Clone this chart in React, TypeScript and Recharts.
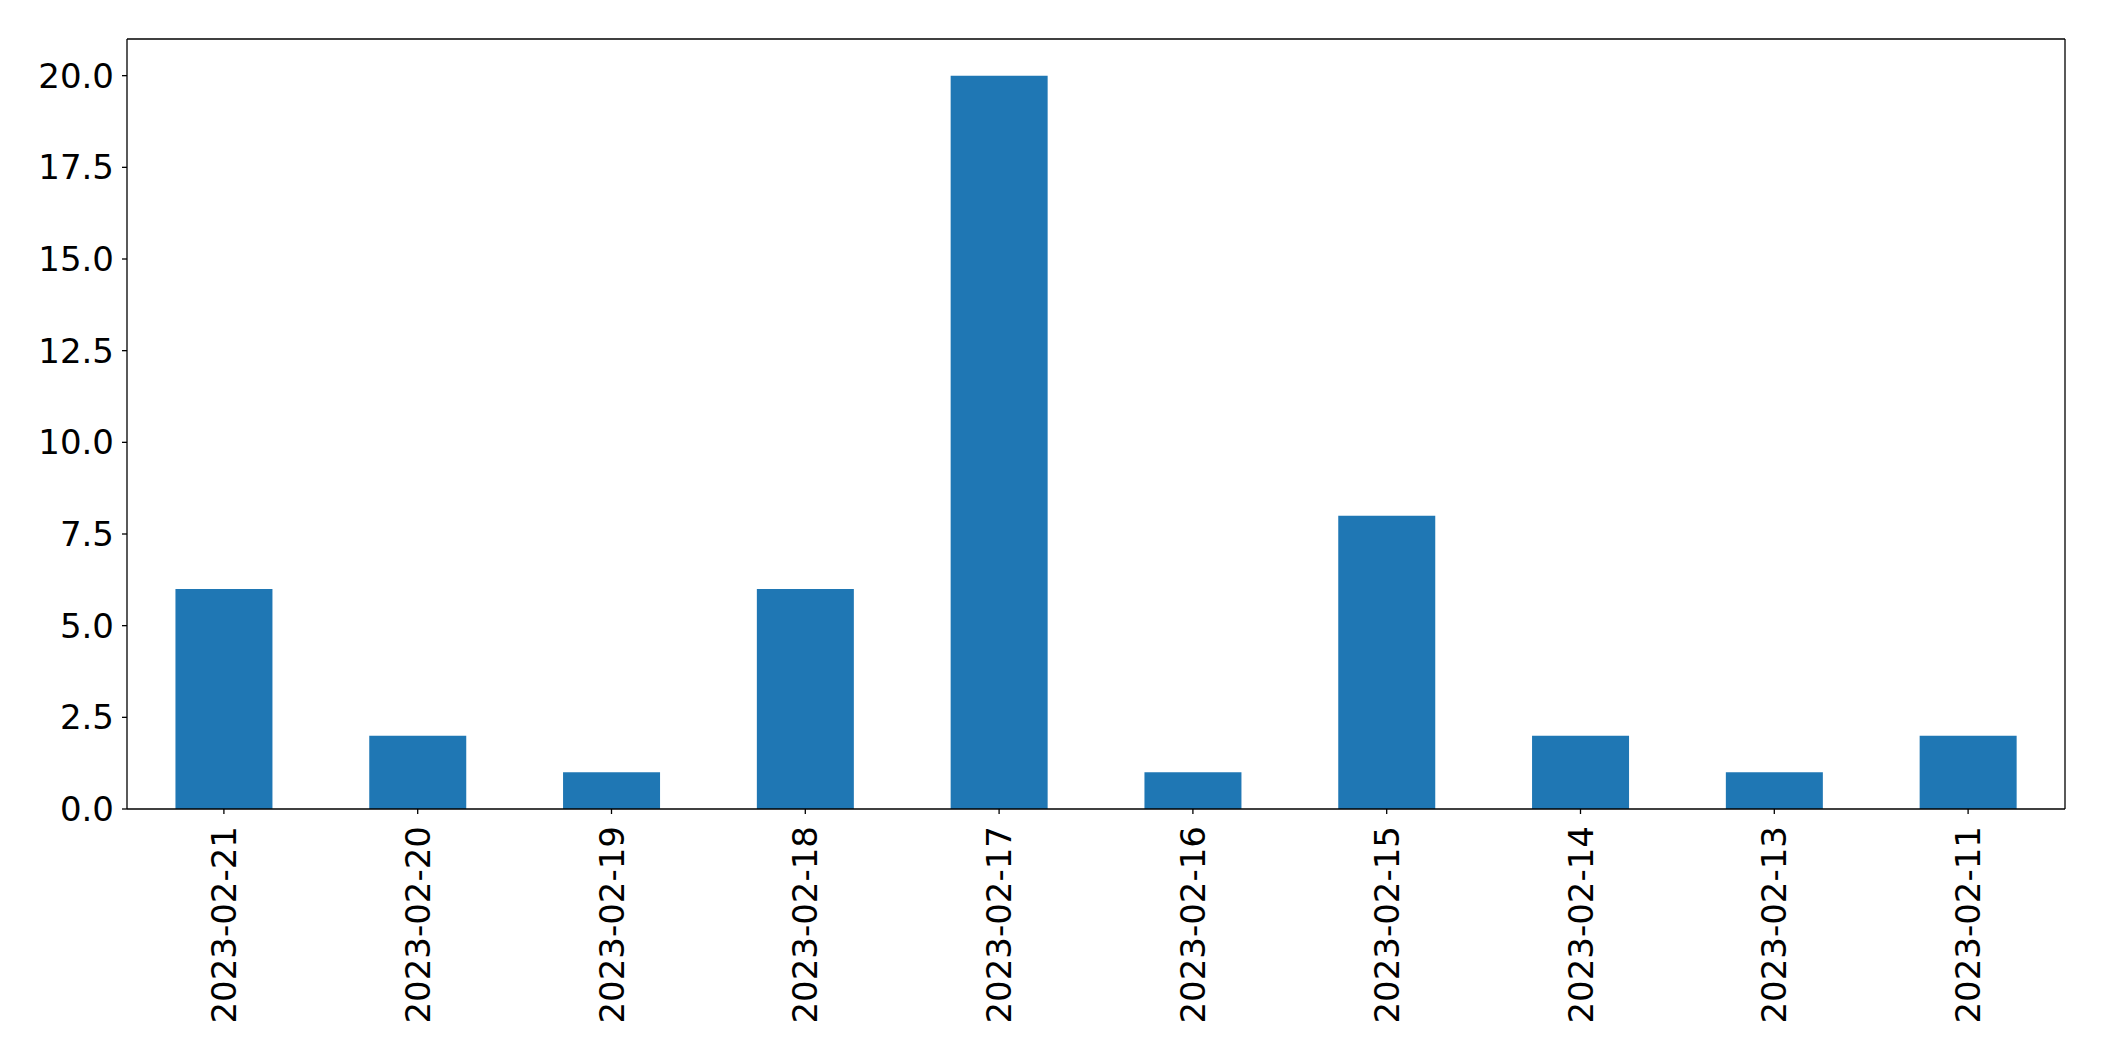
import { BarChart, Bar, XAxis, YAxis, CartesianGrid } from "recharts";

// values
const dates = [
  "2023-02-21",
  "2023-02-20",
  "2023-02-19",
  "2023-02-18",
  "2023-02-17",
  "2023-02-16",
  "2023-02-15",
  "2023-02-14",
  "2023-02-13",
  "2023-02-11",
];
const counts = [6, 2, 1, 6, 20, 1, 8, 2, 1, 2];
const yTicks = [0, 2.5, 5, 7.5, 10, 12.5, 15, 17.5, 20];

const data = dates.map((date, i) => ({ date, count: counts[i] }));

const FONT = "'DejaVu Sans', sans-serif";
const FONT_SIZE = 34;

const RotatedTick = ({ x, y, payload }: any) => (
  <text
    x={x}
    y={y}
    transform={`rotate(-90, ${x}, ${y})`}
    textAnchor="end"
    dominantBaseline="central"
    fill="#000"
    fontSize={FONT_SIZE}
    fontFamily={FONT}
  >
    {payload.value}
  </text>
);

export default function App() {
  return (
    <div style={{ width: 2104, height: 1061, background: "#fff" }}>
      <style>{`body { margin: 0; }`}</style>
      <BarChart
        width={2104}
        height={1061}
        data={data}
        margin={{ top: 39, right: 39, left: 0, bottom: 0 }}
        barCategoryGap="25%"
      >
        {/* top and right edges of the axes frame */}
        <CartesianGrid
          stroke="#000"
          strokeWidth={1.3}
          horizontalCoordinatesGenerator={({ offset }: any) => [offset.top]}
          verticalCoordinatesGenerator={({ offset }: any) => [offset.left + offset.width]}
        />
        <XAxis
          dataKey="date"
          height={252}
          stroke="#000"
          strokeWidth={1.3}
          tickSize={5}
          tickMargin={12}
          interval={0}
          tick={<RotatedTick />}
        />
        <YAxis
          width={127}
          domain={[0, 21]}
          ticks={yTicks}
          tickFormatter={(v: number) => v.toFixed(1)}
          stroke="#000"
          strokeWidth={1.3}
          tickSize={5}
          tickMargin={8}
          tick={{ fill: "#000", fontSize: FONT_SIZE, fontFamily: FONT }}
        />
        <Bar dataKey="count" fill="#1f77b4" isAnimationActive={false} />
      </BarChart>
    </div>
  );
}
